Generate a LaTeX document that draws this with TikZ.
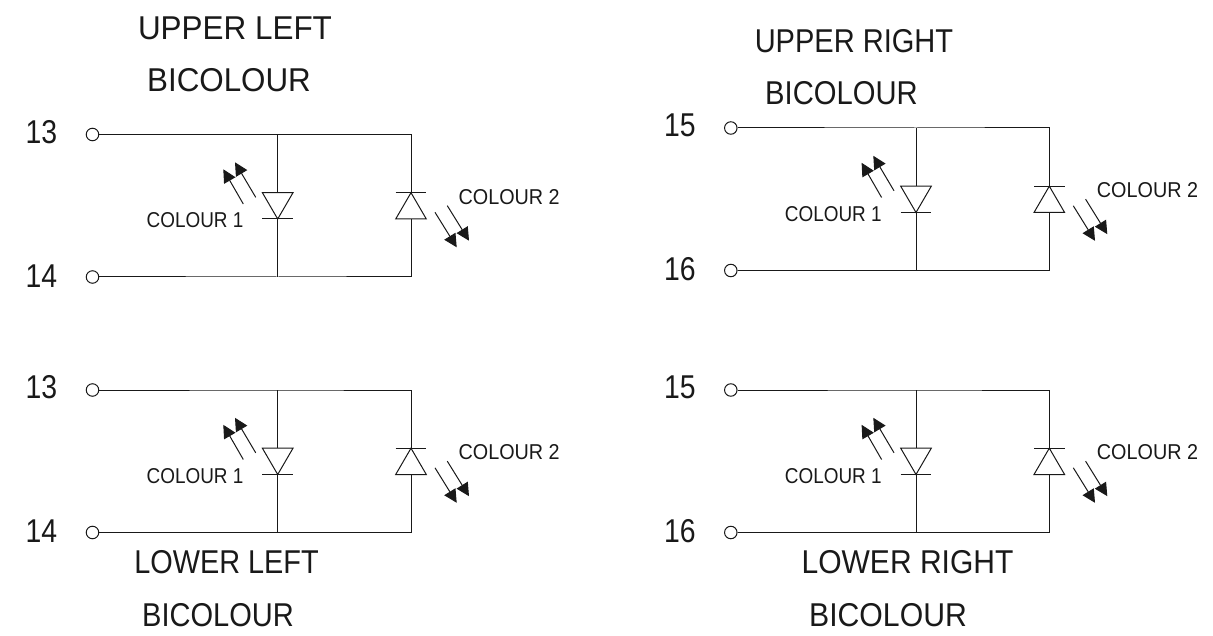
\documentclass[tikz,border=0pt]{standalone}
\usepackage{fontspec}
\setmainfont{Liberation Sans}
\usetikzlibrary{arrows.meta}
\tikzset{
  wire/.style={line width=1pt,black!90},
  term/.style={circle,draw=black!90,line width=1pt,minimum size=12.5pt,inner sep=0pt,fill=white},
  led/.style={wire,-{Triangle[length=13pt,width=13pt]}},
  biglabel/.style={font=\fontsize{33}{36}\selectfont,text=black!90,inner sep=0pt},
  pinlabel/.style={font=\fontsize{33}{36}\selectfont,text=black!90,inner sep=0pt},
  colourlabel/.style={font=\fontsize{21.5}{24}\selectfont,text=black!90,inner sep=0pt},
  pics/bicolour/.style 2 args={code={
    \node[pinlabel] (-pa) at (-51,-2.5) {\scalebox{.86}[1]{#1}};
    \node[pinlabel] (-pb) at (-51,141.5) {\scalebox{.86}[1]{#2}};
    \node[term] (-ta) at (0,0) {};
    \node[term] (-tb) at (0,142.5) {};
    \coordinate (-j1t) at (185.2,0);
    \coordinate (-j1b) at (185.2,142.5);
    \coordinate (-j2t) at (318.5,0);
    \coordinate (-j2b) at (318.5,142.5);
    \coordinate (-d1a) at (185.2,58.2);
    \coordinate (-d1k) at (185.2,84.5);
    \coordinate (-d2k) at (318.5,58.2);
    \coordinate (-d2a) at (318.5,84.5);
    \draw[wire] (-ta) -- (-j1t) -- (-j2t) -- (-d2k);
    \draw[wire] (-tb) -- (-j1b) -- (-j2b) -- (-d2a);
    \draw[wire] (-j1t) -- (-d1a);
    \draw[wire] (-j1b) -- (-d1k);
    \draw[wire,line join=miter] ([xshift=-15.3pt]-d1a) -- ([xshift=15.3pt]-d1a) -- (-d1k) -- cycle;
    \draw[wire] ([xshift=-15.3pt]-d1k) -- ([xshift=15.3pt]-d1k);
    \draw[wire,line join=miter] ([xshift=-15.3pt]-d2a) -- ([xshift=15.3pt]-d2a) -- (-d2k) -- cycle;
    \draw[wire] ([xshift=-15.3pt]-d2k) -- ([xshift=15.3pt]-d2k);
    \coordinate (-a1s) at (150.8,69.5);
    \coordinate (-a1e) at (130.8,34.8);
    \coordinate (-a2s) at (163.2,62.8);
    \coordinate (-a2e) at (142.5,27.8);
    \coordinate (-a3s) at (342.5,77.8);
    \coordinate (-a3e) at (364.2,112.8);
    \coordinate (-a4s) at (354.8,71.2);
    \coordinate (-a4e) at (376.5,106.2);
    \draw[led] (-a1s) -- (-a1e);
    \draw[led] (-a2s) -- (-a2e);
    \draw[led] (-a3s) -- (-a3e);
    \draw[led] (-a4s) -- (-a4e);
    \node[colourlabel] (-c1) at (102.5,86) {\scalebox{.88}[1]{COLOUR 1}};
    \node[colourlabel] (-c2) at (416.7,62.5) {\scalebox{.92}[1]{COLOUR 2}};
  }}
}
\begin{document}
\begin{tikzpicture}[x=1pt,y=-1pt]
\useasboundingbox (0,0) rectangle (1213,636);
\pic (ul) at (92.5,134.5) {bicolour={13}{14}};
\pic (ur) at (730.8,128) {bicolour={15}{16}};
\pic (ll) at (92.5,390) {bicolour={13}{14}};
\pic (lr) at (730.8,390) {bicolour={15}{16}};
\node[biglabel] (t1) at (235,28.5) {\scalebox{.953}[1]{UPPER LEFT}};
\node[biglabel] (t2) at (229,80.5) {\scalebox{.95}[1]{BICOLOUR}};
\node[biglabel] (t3) at (854,41.5) {\scalebox{.88}[1]{UPPER RIGHT}};
\node[biglabel] (t4) at (841.5,93) {\scalebox{.885}[1]{BICOLOUR}};
\node[biglabel] (t5) at (226.5,562) {\scalebox{.875}[1]{LOWER LEFT}};
\node[biglabel] (t6) at (218,615.5) {\scalebox{.88}[1]{BICOLOUR}};
\node[biglabel] (t7) at (907.5,562) {\scalebox{.91}[1]{LOWER RIGHT}};
\node[biglabel] (t8) at (888,615.5) {\scalebox{.915}[1]{BICOLOUR}};
\end{tikzpicture}
\end{document}
